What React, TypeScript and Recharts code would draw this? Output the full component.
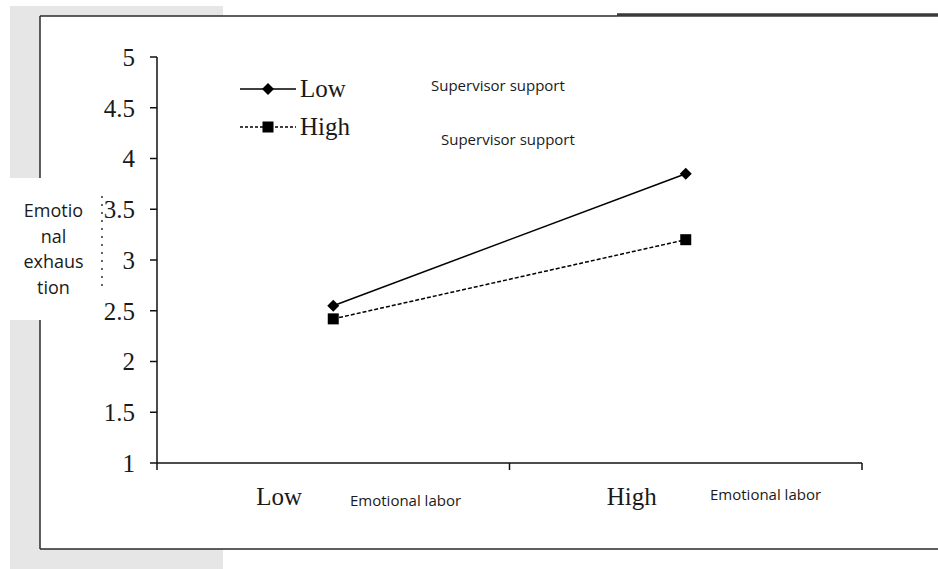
import React from 'react';
import { LineChart, Line, XAxis, YAxis, Legend } from 'recharts';

const categories = ['Low', 'High'];
const categoryPositions = [0.5, 1.5];
const lowSupportValues = [2.55, 3.85];
const highSupportValues = [2.42, 3.2];
const seriesNames = ['Low', 'High'];
const yTicks = [1, 1.5, 2, 2.5, 3, 3.5, 4, 4.5, 5];
const xTicks = [0, 0.5, 1, 1.5, 2];
const xTitle = 'Emotional labor';
const groupTitle = 'Supervisor support';
const yTitleLines = ['Emotio', 'nal', 'exhaus', 'tion'];

const data = categories.map((c, i) => ({
  name: c,
  x: categoryPositions[i],
  low: lowSupportValues[i],
  high: highSupportValues[i],
}));

const SERIF = '"Liberation Serif", "Times New Roman", serif';
const SANS = '"Open Sans", "Noto Sans", sans-serif';
const INK = '#1a1a1a';

const Diamond = (props: any) => {
  const { cx, cy } = props;
  if (cx == null || cy == null) return null;
  const r = 6;
  return <polygon points={`${cx},${cy - r} ${cx + r},${cy} ${cx},${cy + r} ${cx - r},${cy}`} fill="#000" />;
};

const Square = (props: any) => {
  const { cx, cy } = props;
  if (cx == null || cy == null) return null;
  const s = 11;
  return <rect x={cx - s / 2} y={cy - s / 2} width={s} height={s} fill="#000" />;
};

const XTick = (props: any) => {
  const { x, y, payload } = props;
  const v = payload.value;
  if (Number.isInteger(v)) {
    return <line x1={x} y1={y} x2={x} y2={y + 7} stroke="#111" strokeWidth={1.5} />;
  }
  const idx = Math.floor(v);
  return (
    <text x={x - 54} y={y + 42} textAnchor="middle" fontFamily={SERIF} fontSize={25} fill={INK}>
      {categories[idx]}
    </text>
  );
};

const LegendContent = (props: any) => {
  const payload = [...(props.payload || [])].sort(
    (a: any, b: any) => seriesNames.indexOf(a.value) - seriesNames.indexOf(b.value)
  );
  return (
    <div>
      {payload.map((entry: any, i: number) => {
        const isHigh = seriesNames.indexOf(entry.value) === 1;
        return (
          <div key={i} style={{ display: 'flex', alignItems: 'center', height: 38 }}>
            <svg width={56} height={20} style={{ display: 'block' }}>
              <line
                x1={0}
                y1={10}
                x2={56}
                y2={10}
                stroke="#000"
                strokeWidth={1.5}
                strokeDasharray={isHigh ? '3 2' : undefined}
              />
              {isHigh ? <Square cx={28} cy={10} /> : <Diamond cx={28} cy={10} />}
            </svg>
            <span style={{ fontFamily: SERIF, fontSize: 25, color: INK, marginLeft: 4, lineHeight: '38px' }}>
              {entry.value}
            </span>
          </div>
        );
      })}
    </div>
  );
};

const smallText = {
  position: 'absolute' as const,
  fontFamily: SANS,
  fontSize: 15,
  color: INK,
  whiteSpace: 'nowrap' as const,
  lineHeight: '20px',
};

export default function App() {
  return (
    <div style={{ position: 'absolute', left: 0, top: 0, width: 938, height: 569, background: '#fff', overflow: 'hidden' }}>
      <svg width={938} height={569} style={{ position: 'absolute', left: 0, top: 0 }}>
        <rect x={10} y={6} width={213} height={563} fill="#e6e6e6" />
        <rect x={40} y={16} width={898} height={533} fill="#fff" />
        <line x1={40} y1={16} x2={617} y2={16} stroke="#2a2a2a" strokeWidth={1.5} />
        <line x1={617} y1={15} x2={938} y2={15} stroke="#3a3a3a" strokeWidth={3.5} />
        <line x1={40} y1={16} x2={40} y2={549} stroke="#2a2a2a" strokeWidth={1.5} />
        <line x1={40} y1={549} x2={938} y2={549} stroke="#2a2a2a" strokeWidth={1.5} />
        <rect x={10} y={178} width={87} height={142} fill="#fff" />
        <line x1={102} y1={196} x2={102} y2={292} stroke="#333" strokeWidth={1.5} strokeDasharray="2 6" />
      </svg>
      <div style={{ position: 'absolute', left: 0, top: 0 }}>
        <LineChart
          width={938}
          height={569}
          data={data}
          margin={{ top: 57, right: 76, bottom: 26, left: 97 }}
          style={{ background: 'transparent' }}
        >
          <XAxis
            type="number"
            dataKey="x"
            domain={[0, 2]}
            ticks={xTicks}
            interval={0}
            tickLine={false}
            tickSize={0}
            tickMargin={0}
            tick={<XTick />}
            axisLine={{ stroke: '#111', strokeWidth: 1.5 }}
            height={80}
          />
          <YAxis
            type="number"
            domain={[1, 5]}
            ticks={yTicks}
            interval={0}
            width={60}
            tickSize={7}
            tickMargin={15}
            tickLine={{ stroke: '#111', strokeWidth: 1.5 }}
            axisLine={{ stroke: '#111', strokeWidth: 1.5 }}
            tick={{ fontFamily: SERIF, fontSize: 25, fill: INK }}
          />
          <Legend
            layout="vertical"
            align="center"
            verticalAlign="middle"
            wrapperStyle={{ left: 240, top: 70, width: 160, height: 80 }}
            content={<LegendContent />}
          />
          <Line
            name={seriesNames[0]}
            dataKey="low"
            stroke="#000"
            strokeWidth={1.5}
            dot={<Diamond />}
            activeDot={false}
            isAnimationActive={false}
          />
          <Line
            name={seriesNames[1]}
            dataKey="high"
            stroke="#000"
            strokeWidth={1.5}
            strokeDasharray="4 2"
            dot={<Square />}
            activeDot={false}
            isAnimationActive={false}
          />
        </LineChart>
      </div>
      <div style={{ ...smallText, left: 431, top: 75 }}>{groupTitle}</div>
      <div style={{ ...smallText, left: 441, top: 129 }}>{groupTitle}</div>
      <div style={{ ...smallText, left: 350, top: 490 }}>{xTitle}</div>
      <div style={{ ...smallText, left: 710, top: 484 }}>{xTitle}</div>
      <div style={{ position: 'absolute', left: 10, top: 198, width: 87, textAlign: 'center', fontFamily: SANS, fontSize: 18, lineHeight: '25.5px', color: INK }}>
        {yTitleLines.map((l, i) => (
          <div key={i}>{l}</div>
        ))}
      </div>
    </div>
  );
}
